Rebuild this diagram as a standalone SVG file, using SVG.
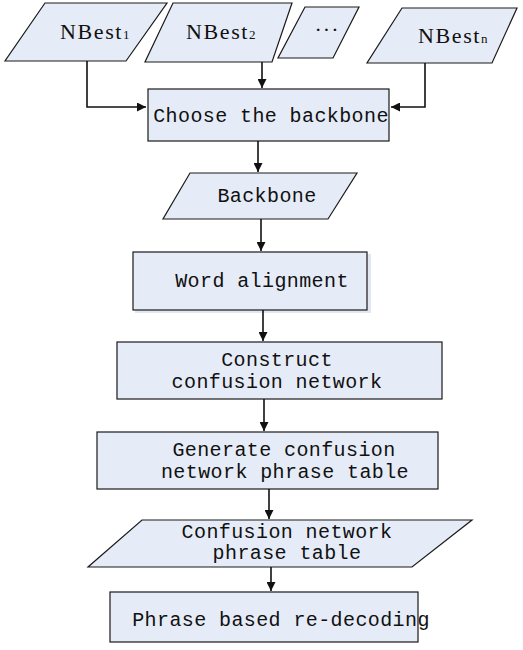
<svg xmlns="http://www.w3.org/2000/svg" width="523" height="650" viewBox="0 0 523 650">
<defs>
<marker id="arr" viewBox="0 0 10 10" refX="10" refY="5" markerWidth="9" markerHeight="9" markerUnits="userSpaceOnUse" orient="auto">
<path d="M0,0 L10,5 L0,10 z" fill="#111"/>
</marker>
<style>
.n{fill:#E6ECF7;stroke:#1a1a1a;stroke-width:1.2}
.sh{fill:#e2e6ee;stroke:none}
.t{font-family:"Liberation Mono",monospace;font-size:20px;fill:#111;text-anchor:middle;letter-spacing:0.4px}
.s{font-family:"Liberation Serif",serif;font-size:22px;fill:#111;letter-spacing:1.6px}
.sub{font-size:13px;letter-spacing:0}
.c{fill:none;stroke:#111;stroke-width:1.6}
</style>
</defs>
<rect width="523" height="650" fill="#fff"/>
<g id="nbest1">
<polygon class="n" points="45,3 167,3 126,61 5,61"/>
<text class="s" x="60" y="39">NBest<tspan class="sub">1</tspan></text>
</g>
<g id="nbest2">
<polygon class="n" points="173,3 292,3 272,62 145,62"/>
<text class="s" x="186" y="39">NBest<tspan class="sub">2</tspan></text>
</g>
<g id="dots">
<polygon class="n" points="305,7 359,7 333,58 278,58"/>
<text class="s" x="327" y="37" text-anchor="middle" style="letter-spacing:1px">···</text>
</g>
<g id="nbestn">
<polygon class="n" points="402,8 517,8 492,63 367,63"/>
<text class="s" x="418" y="43">NBest<tspan class="sub">n</tspan></text>
</g>
<g id="choose">
<rect class="n" x="148" y="89" width="241" height="52"/>
<text class="t" x="271" y="122">Choose the backbone</text>
</g>
<g id="backbone">
<polygon class="n" points="190,173 357,173 328,219 163,219"/>
<text class="t" x="267" y="202">Backbone</text>
</g>
<g id="word">
<rect class="sh" x="135" y="254" width="236" height="59"/>
<rect class="n" x="133" y="252" width="234" height="58"/>
<text class="t" x="262" y="287">Word alignment</text>
</g>
<g id="construct">
<rect class="n" x="117" y="342" width="325" height="57"/>
<text class="t" x="277" y="366">Construct</text>
<text class="t" x="277" y="388">confusion network</text>
</g>
<g id="generate">
<rect class="n" x="97" y="432" width="341" height="57"/>
<text class="t" x="284" y="456">Generate confusion</text>
<text class="t" x="285" y="478">network phrase table</text>
</g>
<g id="cnpt">
<polygon class="n" points="142,520 472,520 412,567 88,567"/>
<text class="t" x="287" y="538">Confusion network</text>
<text class="t" x="287" y="559">phrase table</text>
</g>
<g id="phrase">
<rect class="n" x="110" y="592" width="308" height="50"/>
<text class="t" x="281" y="626">Phrase based re-decoding</text>
</g>
<g id="connectors">
<polyline class="c" points="87,61 87,107 146,107" marker-end="url(#arr)"/>
<line class="c" x1="262" y1="62" x2="262" y2="88" marker-end="url(#arr)"/>
<polyline class="c" points="425,63 425,107 391,107" marker-end="url(#arr)"/>
<line class="c" x1="258" y1="141" x2="258" y2="172" marker-end="url(#arr)"/>
<line class="c" x1="261" y1="219" x2="261" y2="251" marker-end="url(#arr)"/>
<line class="c" x1="263" y1="310" x2="263" y2="341" marker-end="url(#arr)"/>
<line class="c" x1="264" y1="399" x2="264" y2="431" marker-end="url(#arr)"/>
<line class="c" x1="269" y1="489" x2="269" y2="519" marker-end="url(#arr)"/>
<line class="c" x1="271" y1="567" x2="271" y2="591" marker-end="url(#arr)"/>
</g>
</svg>
